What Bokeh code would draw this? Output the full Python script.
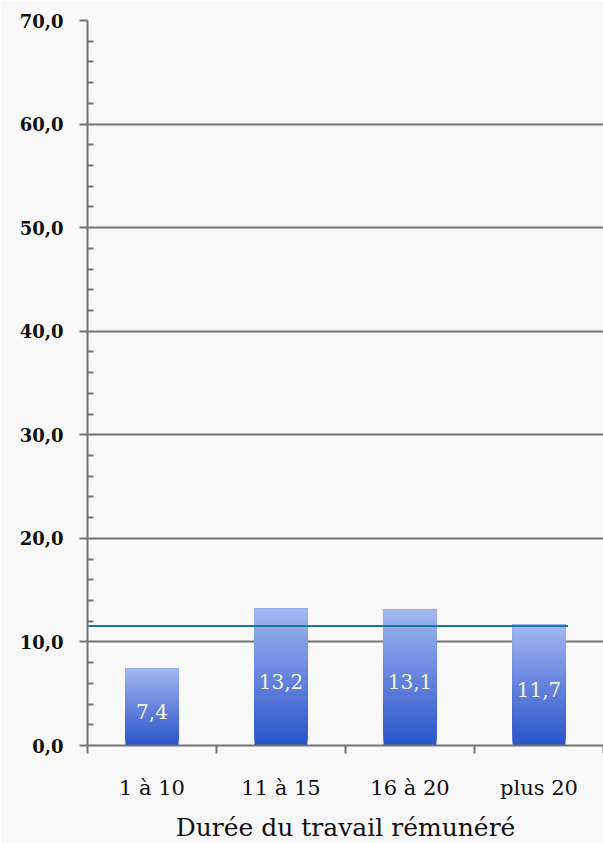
from bokeh.plotting import figure
from bokeh.models import FixedTicker, ColumnDataSource
from bokeh.core.properties import value
from bokeh.embed import file_html
from bokeh.resources import INLINE

categories = ["1 à 10", "11 à 15", "16 à 20", "plus 20"]
values = [7.4, 13.2, 13.1, 11.7]
value_labels = ["7,4", "13,2", "13,1", "11,7"]
y_ticks = [0, 10, 20, 30, 40, 50, 60, 70]
y_tick_labels = ["0,0", "10,0", "20,0", "30,0", "40,0", "50,0", "60,0", "70,0"]
reference_value = 11.55
x_title = "Durée du travail rémunéré"

FONT = "DejaVu Serif"
BG = "#f8f8f8"
GRID = "#727272"
bar_width = 0.41

p = figure(output_backend="svg", toolbar_location=None,
           frame_width=516, frame_height=725,
           x_range=(0, len(categories)), y_range=(0, 70),
           min_border_left=87, min_border_top=20, min_border_right=0,
           min_border_bottom=98,
           background_fill_color=BG, border_fill_color=BG, outline_line_color=None)

# gradient bars built from overlapping slices (each slice reaches the bar top)
def hex2rgb(h):
    return tuple(int(h[i:i+2], 16) for i in (1, 3, 5))

stops = [(0.0, hex2rgb("#2a55c8")), (0.5, hex2rgb("#6584de")), (1.0, hex2rgb("#a2b8ef"))]

def col(t):
    for (t0, c0), (t1, c1) in zip(stops[:-1], stops[1:]):
        if t <= t1:
            f = (t - t0) / (t1 - t0)
            r = [round(a + (b - a) * f) for a, b in zip(c0, c1)]
            return "#%02x%02x%02x" % tuple(r)
    return "#%02x%02x%02x" % stops[-1][1]

N = 40
xs, bots, tops, cols = [], [], [], []
for k in range(N):
    for i, v in enumerate(values):
        xs.append(i + 0.5)
        bots.append(v * k / N)
        tops.append(v)
        cols.append(col((k + 0.5) / N))
p.vbar(x=xs, bottom=bots, top=tops, width=bar_width, fill_color=cols, line_color=None)

# reference line
p.segment(x0=[0], x1=[len(categories) - 0.5 + bar_width / 2 + 0.02],
          y0=[reference_value], y1=[reference_value], line_color="#1a78a0", line_width=2)

# value labels
src = ColumnDataSource(dict(x=[i + 0.5 for i in range(len(values))],
                            y=[v / 2 - 0.4 for v in values], t=value_labels))
p.text(x="x", y="y", text="t", source=src, text_align="center", text_baseline="middle",
       text_color="#f2f2e2", text_font=value(FONT), text_font_size="20px")

# y axis
p.yaxis.ticker = FixedTicker(ticks=y_ticks, minor_ticks=[t for t in range(0, 71, 2) if t % 10])
p.yaxis.major_label_overrides = {t: l for t, l in zip(y_ticks, y_tick_labels)}
p.yaxis.major_label_text_font = FONT
p.yaxis.major_label_text_font_size = "18px"
p.yaxis.major_label_text_font_style = "bold"
p.yaxis.major_label_text_color = "#111111"
p.yaxis.major_label_standoff = 16
p.yaxis.axis_line_color = GRID
p.yaxis.axis_line_width = 2
p.yaxis.major_tick_line_color = GRID
p.yaxis.major_tick_line_width = 2
p.yaxis.major_tick_out = 8
p.yaxis.major_tick_in = 0
p.yaxis.minor_tick_line_color = GRID
p.yaxis.minor_tick_line_width = 2
p.yaxis.minor_tick_in = 6
p.yaxis.minor_tick_out = 0

# x axis
xt = [i + 0.5 for i in range(len(categories))]
p.xaxis.ticker = FixedTicker(ticks=xt, minor_ticks=list(range(len(categories) + 1)))
p.xaxis.major_label_overrides = {t: c for t, c in zip(xt, categories)}
p.xaxis.major_label_text_font = FONT
p.xaxis.major_label_text_font_size = "21px"
p.xaxis.major_label_text_color = "#111111"
p.xaxis.major_label_standoff = 22
p.xaxis.major_tick_line_color = None
p.xaxis.major_tick_out = 0
p.xaxis.major_tick_in = 0
p.xaxis.minor_tick_line_color = GRID
p.xaxis.minor_tick_line_width = 2
p.xaxis.minor_tick_out = 8
p.xaxis.minor_tick_in = 0
p.xaxis.axis_line_color = GRID
p.xaxis.axis_line_width = 2
p.xaxis.axis_label = x_title
p.xaxis.axis_label_text_font = FONT
p.xaxis.axis_label_text_font_size = "25px"
p.xaxis.axis_label_text_font_style = "normal"
p.xaxis.axis_label_text_color = "#111111"
p.xaxis.axis_label_standoff = 10

p.xgrid.grid_line_color = None
p.ygrid.ticker = FixedTicker(ticks=y_ticks)
p.ygrid.grid_line_color = GRID
p.ygrid.grid_line_width = 2

open("out.html", "w").write(file_html(p, INLINE))
